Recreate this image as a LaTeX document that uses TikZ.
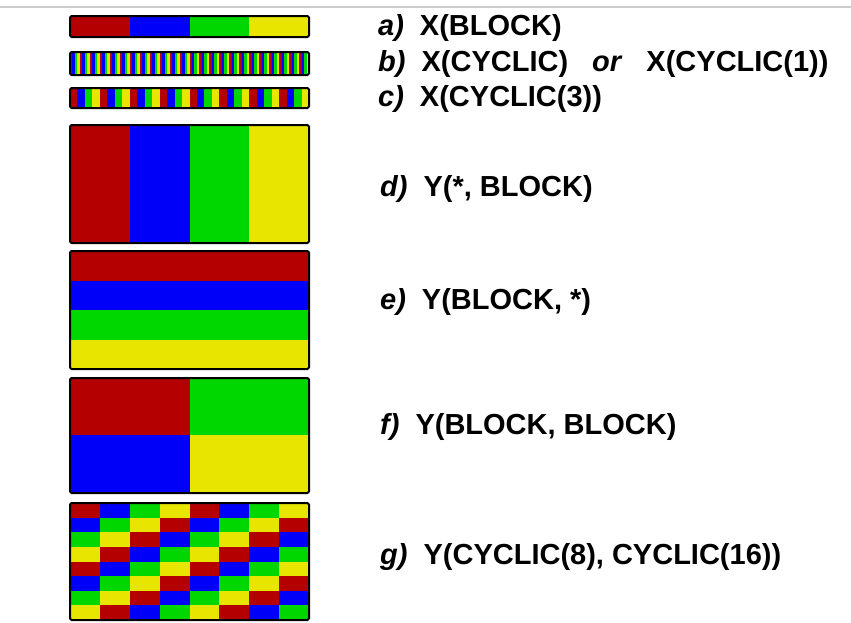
\documentclass[tikz,border=0pt]{standalone}
\usepackage{fontspec}
\setmainfont{Liberation Sans}
\definecolor{col0}{RGB}{180,0,0}
\definecolor{col1}{RGB}{0,0,250}
\definecolor{col2}{RGB}{0,215,0}
\definecolor{col3}{RGB}{232,230,0}
\tikzset{
  frame/.style={draw=black, line width=2pt, rounded corners=1.5pt},
  lab/.style={anchor=base west, inner sep=0pt, font=\bfseries\fontsize{29}{34}\selectfont},
}
\newcommand{\gp}{\hspace{16pt}}
\newcommand{\gpor}{\hspace{24pt}}
\begin{document}
\begin{tikzpicture}[x=1pt,y=-1pt]
\useasboundingbox (0,0) rectangle (851,622);
\draw[black!20, line width=1.3pt] (0,7) -- (851,7);
% a) block
\foreach \i in {0,...,3} {
  \fill[col\i] ({70+\i*59.75},16) rectangle ({70+(\i+1)*59.75+0.3},37);
}
\draw[frame] (70,16) rectangle (309,37);
% b) cyclic
\foreach \i in {0,...,95} {
  \pgfmathtruncatemacro\c{mod(\i,4)}
  \fill[col\c] ({70+\i*2.4896},52) rectangle ({70+(\i+1)*2.4896+0.3},75);
}
\draw[frame] (70,52) rectangle (309,75);
% c) cyclic(3)
\foreach \i in {0,...,31} {
  \pgfmathtruncatemacro\c{mod(\i,4)}
  \fill[col\c] ({70+\i*7.46875},88) rectangle ({70+(\i+1)*7.46875+0.3},108);
}
\draw[frame] (70,88) rectangle (309,108);
% d) columns
\foreach \i in {0,...,3} {
  \fill[col\i] ({70+\i*59.75},125) rectangle ({70+(\i+1)*59.75+0.3},243);
}
\draw[frame] (70,125) rectangle (309,243);
% e) rows
\foreach \i in {0,...,3} {
  \fill[col\i] (70,{251+\i*29.5}) rectangle (309,{251+(\i+1)*29.5+0.3});
}
\draw[frame] (70,251) rectangle (309,369);
% f) 2x2 blocks
\fill[col0] (70,378) rectangle (189.8,435.5);
\fill[col2] (189.5,378) rectangle (309,435.5);
\fill[col1] (70,435.2) rectangle (189.8,493);
\fill[col3] (189.5,435.2) rectangle (309,493);
\draw[frame] (70,378) rectangle (309,493);
% g) cyclic grid
\foreach \r in {0,...,7} {
  \foreach \k in {0,...,7} {
    \pgfmathtruncatemacro\c{mod(\r+\k,4)}
    \fill[col\c] ({70+\k*29.875},{503+\r*14.625}) rectangle ({70+(\k+1)*29.875+0.3},{503+(\r+1)*14.625+0.3});
  }
}
\draw[frame] (70,503) rectangle (309,620);
% labels
\node[lab] (la) at (378,35) {\textit{a)}\gp X(BLOCK)};
\node[lab] (lb) at (378,71) {\textit{b)}\gp X(CYCLIC)\gpor\textit{or}\gpor X(CYCLIC(1))};
\node[lab] (lc) at (378,106) {\textit{c)}\gp X(CYCLIC(3))};
\node[lab] (ld) at (380,196) {\textit{d)}\gp Y(*, BLOCK)};
\node[lab] (le) at (380,309) {\textit{e)}\gp Y(BLOCK, *)};
\node[lab] (lf) at (380,434) {\textit{f)}\gp Y(BLOCK, BLOCK)};
\node[lab] (lg) at (380,564) {\textit{g)}\gp Y(CYCLIC(8), CYCLIC(16))};
\end{tikzpicture}
\end{document}
